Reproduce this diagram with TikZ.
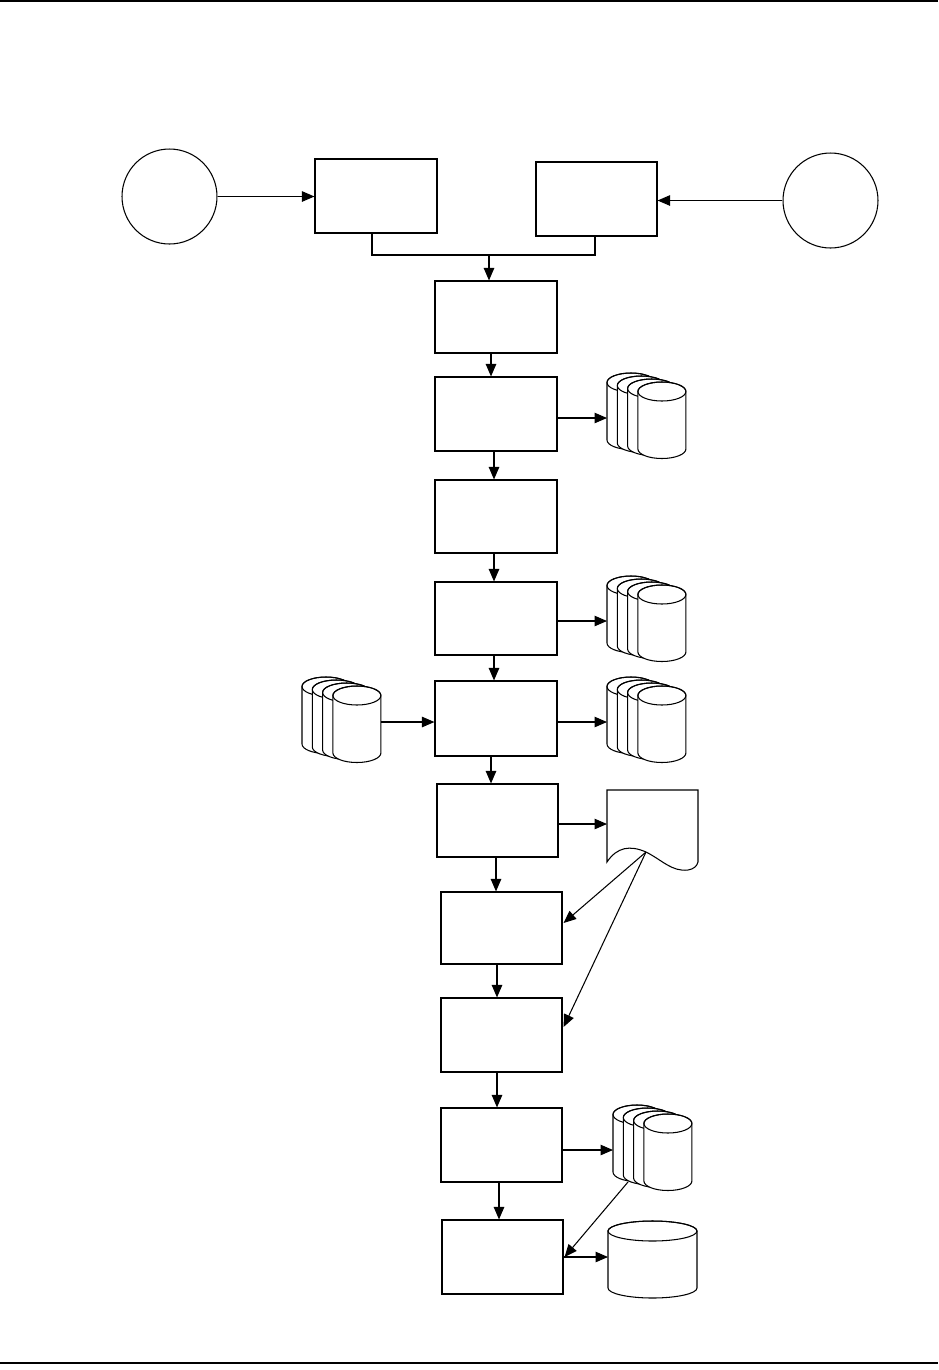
\documentclass[tikz,border=0pt]{standalone}
\usetikzlibrary{arrows.meta,calc,fit}
\newcommand\vdn[3]{\path (#3,0) coordinate (vx); \draw[arr] (vx |- #1.south) -- (vx |- #2.north);}
\begin{document}
\begin{tikzpicture}[x=0.02cm,y=-0.02cm,
  box/.style={draw, line width=0.65pt, inner sep=0pt, fill=white},
  ball/.style={draw, circle, line width=0.6pt, inner sep=0pt, minimum size=1.9cm},
  arr/.style={line width=0.6pt, -{Triangle[length=0.25cm,width=0.21cm]}},
  conn/.style={line width=0.6pt},
  cyl/.pic={
    \path[draw, line width=0.6pt, fill=white] (0,9.5) -- (0,67) arc[start angle=180, end angle=0, x radius=24, y radius=9.5] -- (48,9.5) arc[start angle=0, end angle=-180, x radius=24, y radius=9.5] -- cycle;
    \draw[line width=0.6pt] (24,9.5) ellipse[x radius=24, y radius=9.5];
  },
  stack/.pic={
    \foreach \i in {0,1,2,3} { \pic at ({10.3*\i},{3*\i}) {cyl}; }
    \coordinate (-w) at (0,45);
    \coordinate (-e) at (79,45);
    \coordinate (-b) at (15,77);
  }]
\useasboundingbox (0,0) rectangle (938,1370);
% page rules
\draw[line width=1.1pt] (0,1) -- (938,1);
\draw[line width=0.8pt] (0,1363) -- (938,1363);

% circles
\node[ball] (cL) at (169.5,196.5) {};
\node[ball] (cR) at (830.5,200.5) {};

% boxes
\node[box, fit={(315,159) (437,233)}] (A) {};
\node[box, fit={(536,162) (657,236)}] (B) {};
\node[box, fit={(435,281) (557,353)}] (C) {};
\node[box, fit={(435,377) (557,451)}] (D) {};
\node[box, fit={(435,480) (557,553)}] (E) {};
\node[box, fit={(435,582) (557,655)}] (F) {};
\node[box, fit={(435,681) (557,756)}] (G) {};
\node[box, fit={(437,784) (558,857)}] (H) {};
\node[box, fit={(441,892) (562,964)}] (I) {};
\node[box, fit={(441,998) (562,1072)}] (J) {};
\node[box, fit={(441,1108) (562,1182)}] (K) {};
\node[box, fit={(442,1220) (563,1294)}] (L) {};

% stacks of cylinders
\pic (s1) at (607,373) {stack};
\pic (s2) at (607,576) {stack};
\pic (s3) at (607,677) {stack};
\pic (sl) at (302,677) {stack};
\pic (s4) at (613,1105) {stack};

% document
\draw[line width=0.6pt, fill=white] (607,862) -- (607,790) -- (698,790) -- (698,862)
  .. controls (697,866) and (694,869) .. (688,870)
  .. controls (672,872) and (662,860) .. (646,852)
  .. controls (630,845) and (617,847) .. (607,862) -- cycle;
\coordinate (dw) at (607,824);
\coordinate (dp) at (646,852);

% single disk
\draw[line width=0.6pt, fill=white] (608,1231) -- (608,1288) arc[start angle=180, end angle=0, x radius=44.5, y radius=10] -- (697,1231) arc[start angle=0, end angle=-180, x radius=44.5, y radius=10] -- cycle;
\draw[line width=0.6pt] (652.5,1231) ellipse[x radius=44.5, y radius=10];
\coordinate (db) at (608,1257);

% top connections
\draw[arr] (cL.east) -- (cL.east -| A.west);
\draw[arr] (cR.west) -- (cR.west -| B.east);
\coordinate (j) at (489,255);
\draw[conn] (A.south -| 372,0) |- (j) -| (B.south -| 595,0);
\draw[arr] (j) -- (j |- C.north);

% vertical flow
\vdn{C}{D}{491}
\vdn{D}{E}{494}
\vdn{E}{F}{494}
\vdn{F}{G}{494}
\vdn{G}{H}{491}
\vdn{H}{I}{496}
\vdn{I}{J}{497}
\vdn{J}{K}{497}
\vdn{K}{L}{499}

% side connections
\draw[arr] (s1-w -| D.east) -- (s1-w);
\draw[arr] (s2-w -| F.east) -- (s2-w);
\draw[arr] (s3-w -| G.east) -- (s3-w);
\draw[arr] (sl-e) -- (sl-e -| G.west);
\draw[arr] (dw -| H.east) -- (dw);
\draw[arr] (dp) -- ($(I.east)+(1,-5)$);
\draw[arr] (dp) -- ($(J.east)+(1,-8)$);
\draw[arr] (s4-w -| K.east) -- (s4-w);
\draw[arr] (s4-b) -- ($(L.east)+(1,0)$);
\draw[arr] (L.east) -- (db);
\end{tikzpicture}
\end{document}
